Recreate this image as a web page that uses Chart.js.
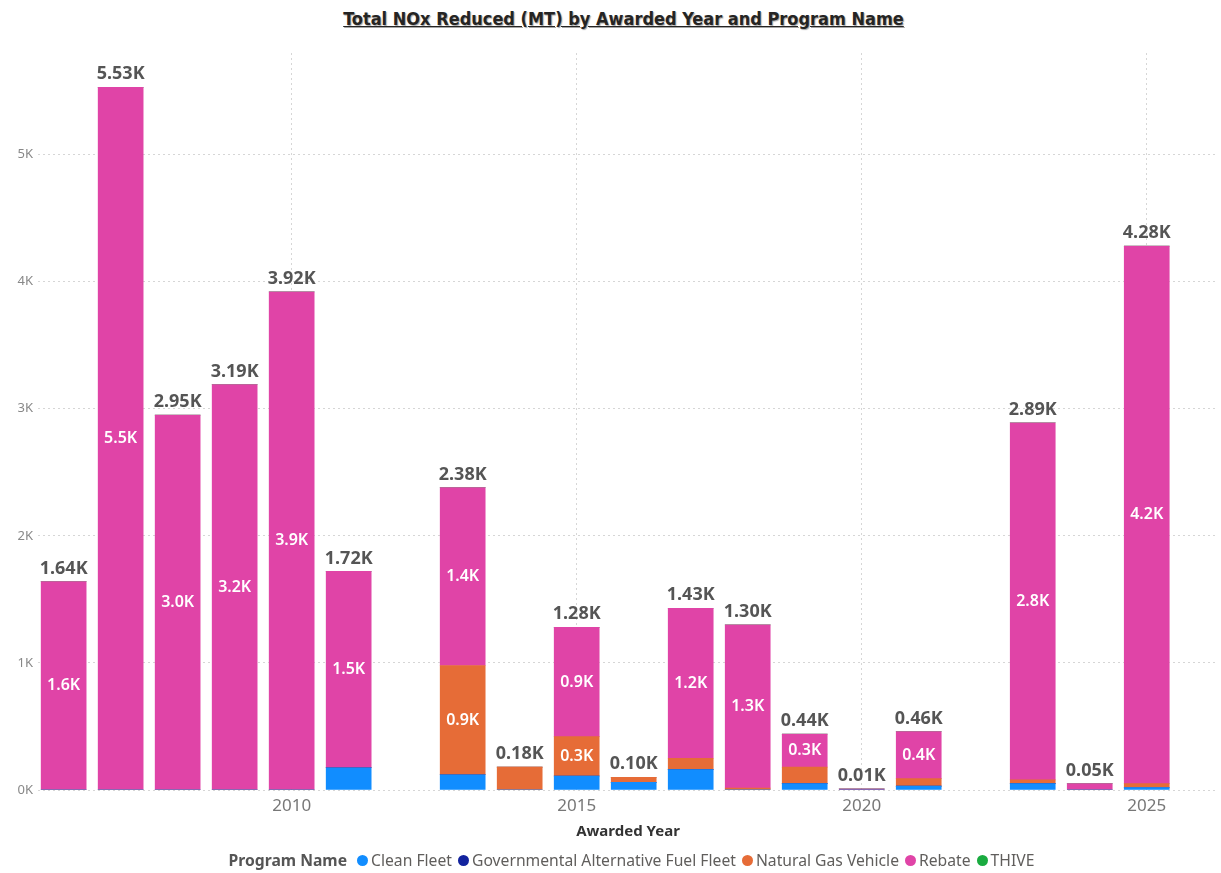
<!DOCTYPE html>
<html>
<head>
<meta charset="utf-8">
<script src="https://cdn.jsdelivr.net/npm/chart.js@4.4.1/dist/chart.umd.min.js"></script>
<style>
  body { margin: 0; background: #fff; width: 1221px; height: 873px; overflow: hidden; position: relative; font-family: "Noto Sans", sans-serif; }
  #title { position: absolute; top: 8px; left: 13px; width: 1221px; text-align: center; font-family: "DejaVu Sans Condensed", "DejaVu Sans", sans-serif; font-weight: bold; font-size: 18px; color: #252423; text-decoration: underline; text-shadow: 1px 1px 1px rgba(0,0,0,0.35); }
  #legend { position: absolute; top: 849px; left: 24px; width: 1221px; display: flex; justify-content: center; align-items: center; font-size: 15.7px; color: #605E5C; }
  #legend b { margin-right: 10px; color: #555; }
  #legend span.item { display: inline-flex; align-items: center; margin-right: 6px; }
  #legend i { display: inline-block; width: 11px; height: 11px; border-radius: 50%; margin-right: 3px; }
  canvas { position: absolute; top: 0; left: 0; }
</style>
</head>
<body>
<div id="title">Total NOx Reduced (MT) by Awarded Year and Program Name</div>
<canvas id="myChart" width="1221" height="873"></canvas>
<div id="legend"></div>
<script>
// awarded years with data (2012 and 2022 have none)
const years = [2006, 2007, 2008, 2009, 2010, 2011, 2013, 2014, 2015, 2016, 2017, 2018, 2019, 2020, 2021, 2023, 2024, 2025];

// NOx reduced (MT) per program
const cleanFleet = [0, 0, 0, 0, 0, 175, 120, 0, 110, 60, 160, 0, 50, 0, 30, 50, 0, 20];
const govAltFuelFleet = [0, 0, 0, 0, 0, 0, 0, 0, 0, 0, 0, 0, 0, 0, 0, 0, 0, 0];
const naturalGasVehicle = [0, 0, 0, 0, 0, 0, 860, 180, 310, 40, 90, 15, 130, 0, 60, 30, 0, 30];
const rebate = [1640, 5530, 2950, 3190, 3920, 1545, 1400, 0, 860, 0, 1180, 1285, 260, 10, 370, 2810, 50, 4230];
const thive = [0, 0, 0, 0, 0, 0, 0, 0, 0, 0, 0, 0, 0, 0, 0, 0, 0, 0];

const programNames = ["Clean Fleet", "Governmental Alternative Fuel Fleet", "Natural Gas Vehicle", "Rebate", "THIVE"];
const programColors = ["#118DFF", "#12239E", "#E66C37", "#E044A7", "#1AAB40"];
const seriesList = [cleanFleet, govAltFuelFleet, naturalGasVehicle, rebate, thive];

const xTicks = [2010, 2015, 2020, 2025];
const yTicks = [0, 1000, 2000, 3000, 4000, 5000];

function kLabel(v, digits){
    return (v / 1000).toFixed(digits) + "K";
}

let datasets = programNames.map(function(name, k){
    return {
        label: name,
        data: years.map((yr, i) => ({x: yr, y: seriesList[k][i]})),
        backgroundColor: programColors[k],
        barThickness: 45,
        borderWidth: 0
    };
});

// draws segment labels and totals like power bi
const labelPlugin = {
    id: "labelPlugin",
    afterDatasetsDraw(chart){
        let ctx = chart.ctx;
        ctx.save();
        ctx.textAlign = "center";
        // inner labels
        ctx.font = "600 16px 'Noto Sans'";
        ctx.fillStyle = "#ffffff";
        ctx.textBaseline = "middle";
        chart.data.datasets.forEach(function(ds, k){
            let meta = chart.getDatasetMeta(k);
            meta.data.forEach(function(el, i){
                let v = seriesList[k][i];
                if(v >= 200){
                    ctx.fillText(kLabel(v, 1), el.x, (el.y + el.base) / 2);
                }
            });
        });
        // totals
        ctx.font = "bold 18px 'Noto Sans'";
        ctx.fillStyle = "#555555";
        ctx.textBaseline = "bottom";
        years.forEach(function(yr, i){
            let total = 0;
            let top = null;
            let x = 0;
            chart.data.datasets.forEach(function(ds, k){
                let v = seriesList[k][i];
                total += v;
                let el = chart.getDatasetMeta(k).data[i];
                x = el.x;
                if(v > 0 && (top === null || el.y < top)) top = el.y;
            });
            if(top !== null){
                ctx.fillText(kLabel(total, 2), x, top - 4);
            }
        });
        ctx.restore();
    }
};

let ctx = document.getElementById("myChart").getContext("2d");
let myChart = new Chart(ctx, {
    type: "bar",
    data: { datasets: datasets },
    options: {
        responsive: false,
        animation: false,
        layout: { padding: { left: 0, right: 3, top: 53, bottom: 28 } },
        plugins: {
            legend: { display: false },
            tooltip: { enabled: false }
        },
        scales: {
            x: {
                type: "linear",
                stacked: true,
                offset: false,
                min: 2005.55,
                max: 2026.25,
                afterBuildTicks: s => { s.ticks = xTicks.map(v => ({value: v})); },
                afterFit: s => { s.height = 55; },
                ticks: {
                    padding: 6,
                    color: "#777777",
                    font: { family: "Noto Sans", size: 17 },
                    callback: v => String(v)
                },
                grid: { color: "#d6d6d6", drawTicks: false, offset: false },
                border: { display: false, dash: [2, 3] },
                title: {
                    display: true,
                    text: "Awarded Year",
                    color: "#333333",
                    font: { family: "Noto Sans", size: 15, weight: "bold" }
                }
            },
            y: {
                stacked: true,
                min: 0,
                max: 5800,
                afterBuildTicks: s => { s.ticks = yTicks.map(v => ({value: v})); },
                afterFit: s => { s.width = 38; },
                ticks: {
                    padding: 5,
                    color: "#888888",
                    font: { family: "Noto Sans", size: 13 },
                    callback: v => (v / 1000) + "K"
                },
                grid: { color: "#d6d6d6", drawTicks: false },
                border: { display: false, dash: [2, 3] }
            }
        }
    },
    plugins: [labelPlugin]
});

// legend
let legend = document.getElementById("legend");
let head = document.createElement("b");
head.textContent = "Program Name";
legend.appendChild(head);
programNames.forEach(function(name, k){
    let item = document.createElement("span");
    item.className = "item";
    let dot = document.createElement("i");
    dot.style.background = programColors[k];
    item.appendChild(dot);
    item.appendChild(document.createTextNode(name));
    legend.appendChild(item);
});
</script>
</body>
</html>
